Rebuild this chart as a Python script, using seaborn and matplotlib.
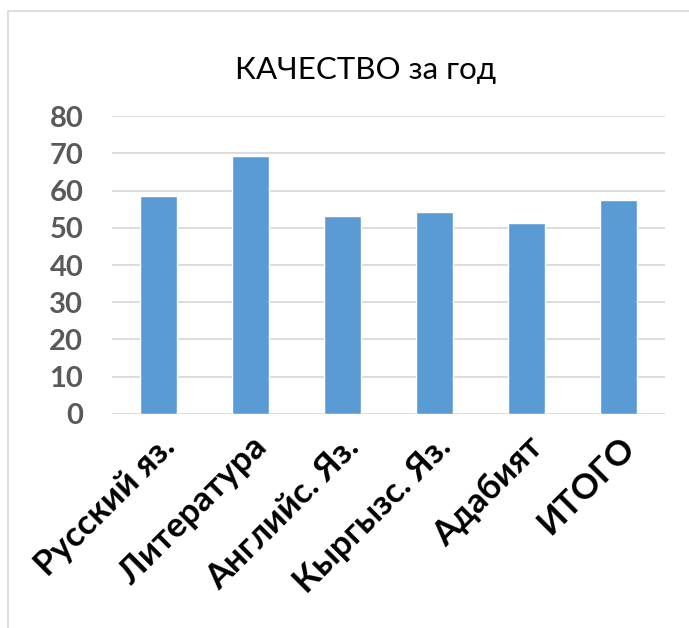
import seaborn as sns
import matplotlib.pyplot as plt
import pandas as pd

# values
subjects = ['Русский яз.', 'Литература', 'Английс. Яз.', 'Кыргызс. Яз.', 'Адабият', 'ИТОГО']
quality = [58.6, 69.2, 53.2, 54.3, 51.4, 57.5]
y_ticks = [0, 10, 20, 30, 40, 50, 60, 70, 80]

df = pd.DataFrame({'subject': subjects, 'quality': quality})

sns.set_style('white')
plt.rcParams['font.family'] = ['Lato', 'DejaVu Sans']

fig = plt.figure(figsize=(6.89, 6.28), dpi=100)
ax = fig.add_axes([0.163, 0.341, 0.802, 0.474])

sns.barplot(data=df, x='subject', y='quality', color='#5B9BD5', width=0.4,
            saturation=1, ax=ax, zorder=3)

ax.set_ylim(0, 80)
ax.set_yticks(y_ticks)
ax.yaxis.grid(True, color='#D9D9D9', linewidth=1.3, zorder=0)
ax.set_axisbelow(True)
for s in ax.spines.values():
    s.set_visible(False)
ax.tick_params(axis='both', length=0)
ax.tick_params(axis='y', pad=21)
ax.set_xlabel('')
ax.set_ylabel('')

for lab in ax.get_yticklabels():
    lab.set_fontsize(21)
    lab.set_fontweight('bold')
    lab.set_color('#595959')

ax.set_xticks(range(len(subjects)))
ax.set_xticklabels(subjects, rotation=45, ha='right', rotation_mode='anchor',
                   fontsize=25, fontweight='bold', color='black')
ax.tick_params(axis='x', pad=12)

fig.text(0.53, 0.888, 'КАЧЕСТВО за год', ha='center', va='center', fontsize=22.5, color='black')

# thin frame lines of the chart area (top and left)
fig.add_artist(plt.Line2D([0.0116, 1.0], [0.9825, 0.9825], color='#D9D9D9', linewidth=1.2))
fig.add_artist(plt.Line2D([0.0116, 0.0116], [0.0, 0.9825], color='#D9D9D9', linewidth=1.2))

plt.savefig('out.png', dpi=100)
